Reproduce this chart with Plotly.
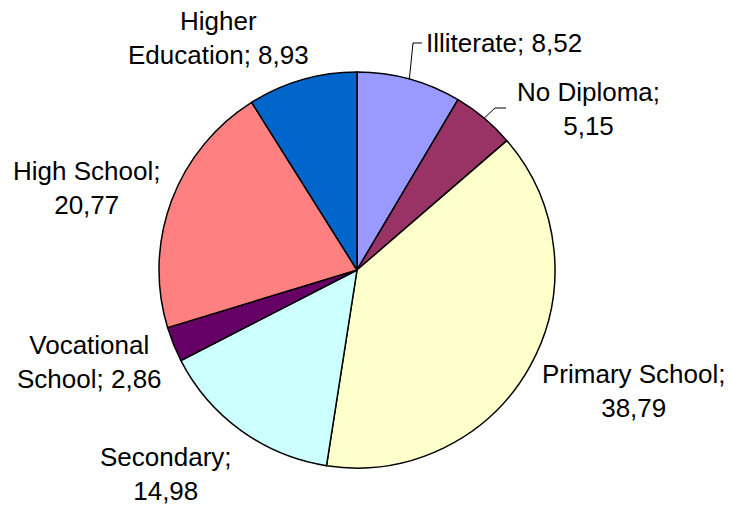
import math
import plotly.graph_objects as go

# Education level distribution (%)
categories = ["Illiterate", "No Diploma", "Primary School", "Secondary",
              "Vocational School", "High School", "Higher Education"]
values = [8.52, 5.15, 38.79, 14.98, 2.86, 20.77, 8.93]
colors = ["#9999FF", "#993366", "#FFFFCC", "#CCFFFF",
          "#660066", "#FF8080", "#0066CC"]

# Label text layout (line breaks) for each slice
label_lines = {
    "Illiterate": "{c}; {v}",
    "No Diploma": "{c};<br>{v}",
    "Primary School": "{c};<br>{v}",
    "Secondary": "{c};<br>{v}",
    "Vocational School": "Vocational<br>School; {v}",
    "High School": "{c};<br>{v}",
    "Higher Education": "Higher<br>Education; {v}",
}

W, H = 729, 507
CX, CY, R = 357, 270, 198  # pie centre and radius in pixels

# Label anchor positions in pixels (centre of text block)
label_pos = {
    "Illiterate": (424, 43, "left"),
    "No Diploma": (588, 109, "center"),
    "Primary School": (634, 391, "center"),
    "Secondary": (166, 474, "center"),
    "Vocational School": (89, 362, "center"),
    "High School": (86, 188, "center"),
    "Higher Education": (218, 38, "center"),
}
# Slices with a leader line: (elbow pixel, end pixel)
leaders = {
    "Illiterate": ((413, 43), (422, 43)),
    "No Diploma": ((495, 108), (506, 108)),
}

def fmt(v):
    return f"{v:.2f}".replace(".", ",")

fig = go.Figure(go.Pie(
    labels=categories,
    values=values,
    sort=False,
    direction="clockwise",
    rotation=0,
    marker=dict(colors=colors, line=dict(color="black", width=1.5)),
    textinfo="none",
    hoverinfo="label+value",
    domain=dict(x=[(CX - R) / W, (CX + R) / W],
                y=[1 - (CY + R) / H, 1 - (CY - R) / H]),
    showlegend=False,
))

def px(x):
    return x / W

def py(y):
    return 1 - y / H

annotations = []
shapes = []
total = sum(values)
cum = 0.0
for cat, v in zip(categories, values):
    mid = (cum + v / 2) / total * 2 * math.pi
    cum += v
    x, y, anchor = label_pos[cat]
    annotations.append(dict(
        text=label_lines[cat].format(c=cat, v=fmt(v)),
        x=px(x), y=py(y), xref="paper", yref="paper",
        xanchor=anchor, yanchor="middle", align="center",
        showarrow=False,
        font=dict(family="Liberation Sans, Arial", size=26, color="black"),
    ))
    if cat in leaders:
        ex = CX + R * math.sin(mid)
        ey = CY - R * math.cos(mid)
        (bx, by), (tx, ty) = leaders[cat]
        shapes.append(dict(
            type="path", xref="paper", yref="paper",
            path=f"M {px(ex)},{py(ey)} L {px(bx)},{py(by)} L {px(tx)},{py(ty)}",
            line=dict(color="black", width=1),
        ))

fig.update_layout(
    width=W, height=H,
    margin=dict(l=0, r=0, t=0, b=0),
    paper_bgcolor="white",
    plot_bgcolor="white",
    annotations=annotations,
    shapes=shapes,
)

fig.write_html("out.html")
